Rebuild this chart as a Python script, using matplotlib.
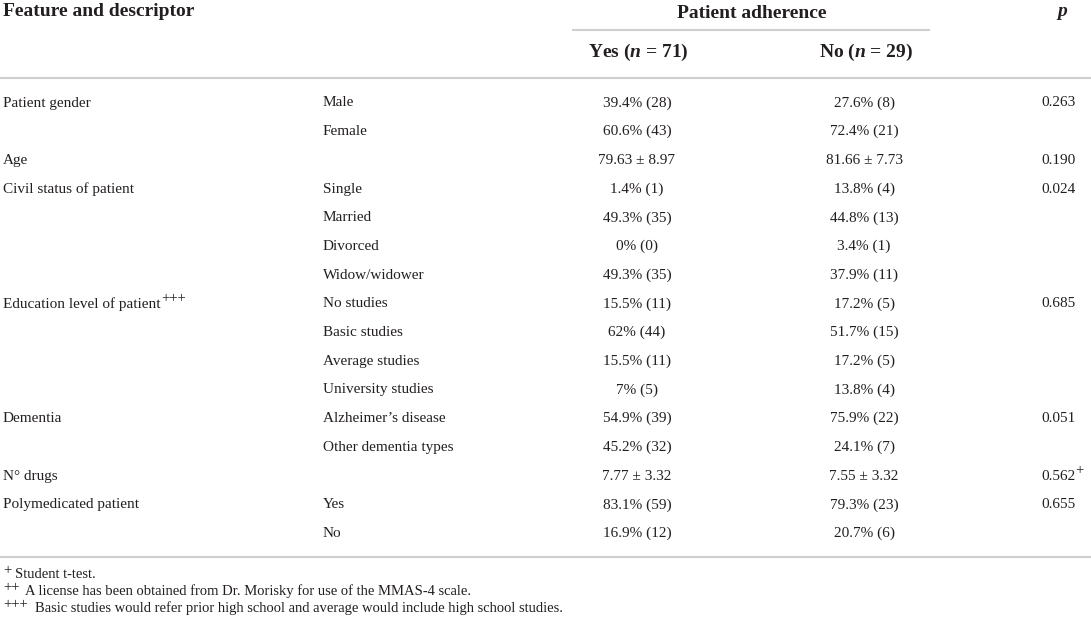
import matplotlib
matplotlib.use("Agg")
import matplotlib.pyplot as plt

plt.rcParams["font.family"] = ["Liberation Serif", "DejaVu Serif"]
plt.rcParams["mathtext.fontset"] = "custom"
plt.rcParams["mathtext.rm"] = "Liberation Serif"
plt.rcParams["mathtext.it"] = "Liberation Serif:italic"
plt.rcParams["mathtext.bf"] = "Liberation Serif:bold"
plt.rcParams["mathtext.bfit"] = "Liberation Serif:bold:italic"

# table content
features = ["Patient gender", "", "Age", "Civil status of patient", "", "", "",
            "Education level of patient", "", "", "", "Dementia", "",
            "N° drugs", "Polymedicated patient", ""]
feature_marks = ["", "", "", "", "", "", "", "+++", "", "", "", "", "", "", "", ""]
descriptors = ["Male", "Female", "", "Single", "Married", "Divorced", "Widow/widower",
               "No studies", "Basic studies", "Average studies", "University studies",
               "Alzheimer’s disease", "Other dementia types", "", "Yes", "No"]
adherent_yes = ["39.4% (28)", "60.6% (43)", "79.63 ± 8.97", "1.4% (1)", "49.3% (35)",
                "0% (0)", "49.3% (35)", "15.5% (11)", "62% (44)", "15.5% (11)", "7% (5)",
                "54.9% (39)", "45.2% (32)", "7.77 ± 3.32", "83.1% (59)", "16.9% (12)"]
adherent_no = ["27.6% (8)", "72.4% (21)", "81.66 ± 7.73", "13.8% (4)", "44.8% (13)",
               "3.4% (1)", "37.9% (11)", "17.2% (5)", "51.7% (15)", "17.2% (5)", "13.8% (4)",
               "75.9% (22)", "24.1% (7)", "7.55 ± 3.32", "79.3% (23)", "20.7% (6)"]
p_values = ["0.263", "", "0.190", "0.024", "", "", "", "0.685", "", "", "", "0.051", "",
            "0.562", "0.655", ""]
p_marks = ["", "", "", "", "", "", "", "", "", "", "", "", "", "+", "", ""]
footnote_marks = ["+", "++", "+++"]
footnote_texts = ["Student t-test.",
                  "A license has been obtained from Dr. Morisky for use of the MMAS-4 scale.",
                  "Basic studies would refer prior high school and average would include high school studies."]

W, H = 1091, 628
fig = plt.figure(figsize=(W / 100, H / 100), dpi=100)
ax = fig.add_axes([0, 0, 1, 1])
ax.set_xlim(0, W)
ax.set_ylim(H, 0)
ax.axis("off")
renderer = fig.canvas.get_renderer()

txt = "#231f20"
rule = "#cfcfcf"
fs = 11.0
hfs = 14

x_feat, x_desc, x_yes, x_no, x_p = 3, 323, 637, 864, 1058


def add_mark(t, mark, size=10.5, dy=-5, gap=0.5):
    # superscript mark right after a text object
    bb = t.get_window_extent(renderer)
    x_end = ax.transData.inverted().transform((bb.x1, 0))[0]
    y = t.get_position()[1]
    ax.text(x_end + gap, y + dy, mark, fontsize=size, color=txt, va="center", ha="left")


# header
ax.text(x_feat, 12, "Feature and descriptor", fontsize=hfs, fontweight="bold", color=txt, va="center")
ax.text(752, 13, "Patient adherence", fontsize=hfs, fontweight="bold", color=txt, va="center", ha="center")
ax.text(1062, 14, "$\\mathbfit{p}$", fontsize=hfs, color=txt, va="center", ha="center")
ax.plot([572, 930], [30, 30], color=rule, lw=1.5, solid_capstyle="butt")
ax.text(638, 52, "Yes ($\\mathbfit{n}$ = 71)", fontsize=hfs, fontweight="bold", color=txt, va="center", ha="center")
ax.text(866, 52, "No ($\\mathbfit{n}$ = 29)", fontsize=hfs, fontweight="bold", color=txt, va="center", ha="center")
ax.plot([0, W], [78, 78], color=rule, lw=1.5, solid_capstyle="butt")

# body rows
y0, dy = 103, 28.7
for i in range(len(descriptors)):
    y = y0 + i * dy
    t = ax.text(x_feat, y, features[i], fontsize=fs, color=txt, va="center")
    if feature_marks[i]:
        add_mark(t, feature_marks[i])
    ax.text(x_desc, y, descriptors[i], fontsize=fs, color=txt, va="center")
    ax.text(x_yes, y, adherent_yes[i], fontsize=fs, color=txt, va="center", ha="center")
    ax.text(x_no, y, adherent_no[i], fontsize=fs, color=txt, va="center", ha="center")
    t = ax.text(x_p, y, p_values[i], fontsize=fs, color=txt, va="center", ha="center")
    if p_marks[i]:
        add_mark(t, p_marks[i])

ax.plot([0, W], [557, 557], color=rule, lw=1.5, solid_capstyle="butt")

# footnotes
note_x = [15, 25, 35]
for k in range(len(footnote_texts)):
    y = 574 + k * 17
    ax.text(3, y - 3, footnote_marks[k], fontsize=10.5, color=txt, va="center")
    ax.text(note_x[k], y, footnote_texts[k], fontsize=10.5, color=txt, va="center")

fig.savefig("out.png", dpi=100)
